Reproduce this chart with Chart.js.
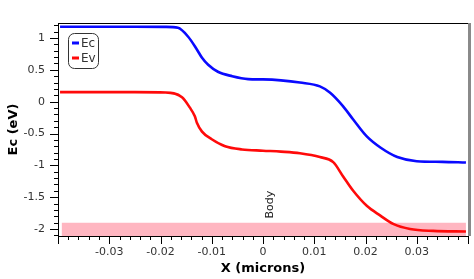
<!DOCTYPE html>
<html>
<head>
<meta charset="utf-8">
<script src="https://cdn.jsdelivr.net/npm/chart.js@4"></script>
<style>
  html, body { margin: 0; padding: 0; background: #fff; }
  #wrap { width: 474px; height: 279px; }
</style>
</head>
<body>
<div id="wrap"><canvas id="c"></canvas></div>
<script>
// Conduction band (Ec)
const ecX = [-0.0396, -0.025, -0.019, -0.0166, -0.0146, -0.0129, -0.0119, -0.0107, -0.0088, -0.006,
  -0.0029, 0.0, 0.0035, 0.0072, 0.0111, 0.0131, 0.0156, 0.0176, 0.0203, 0.0229,
  0.0262, 0.030, 0.035, 0.0396];
const ecY = [1.177, 1.177, 1.175, 1.16, 1.02, 0.82, 0.69, 0.58, 0.47, 0.40,
  0.355, 0.35, 0.335, 0.30, 0.24, 0.14, -0.07, -0.28, -0.55, -0.72,
  -0.87, -0.935, -0.945, -0.955];

// Valence band (Ev)
const evX = [-0.0396, -0.025, -0.019, -0.0158, -0.0143, -0.0133, -0.0129, -0.0119, -0.010, -0.0074,
  -0.0041, 0.0, 0.0035, 0.0072, 0.0111, 0.0137, 0.0156, 0.0176, 0.0203, 0.0229,
  0.0254, 0.0287, 0.0332, 0.0396];
const evY = [0.15, 0.15, 0.145, 0.07, -0.09, -0.23, -0.33, -0.47, -0.59, -0.70,
  -0.75, -0.77, -0.785, -0.81, -0.87, -0.95, -1.17, -1.40, -1.64, -1.79,
  -1.92, -2.0, -2.03, -2.04];

// "Body" region strip along the bottom
const bodyX = [-0.0393, 0.0396];
const bodyTop = -1.9;

const xTicks = [];
for (let i = -20; i <= 20; i++) xTicks.push(i * 0.002);
const yTicks = [];
for (let i = -21; i <= 12; i++) yTicks.push(i * 0.1);

const pts = (xs, ys) => xs.map((x, i) => ({ x, y: ys[i] }));
const isMult = (v, s) => Math.abs(v / s - Math.round(v / s)) < 1e-6;

const FONT = 'DejaVu Sans';

// draws major/minor ticks, frame and the boxed legend
const decor = {
  id: 'decor',
  afterDraw(chart) {
    const { ctx, chartArea: a, scales } = chart;
    ctx.save();
    ctx.strokeStyle = '#000';
    ctx.lineWidth = 1;
    ctx.beginPath();
    scales.y.ticks.forEach(t => {
      const p = Math.round(scales.y.getPixelForValue(t.value)) + 0.5;
      const len = isMult(t.value, 0.5) ? 8 : 4;
      ctx.moveTo(a.left - len, p); ctx.lineTo(a.left, p);
    });
    scales.x.ticks.forEach(t => {
      const p = Math.round(scales.x.getPixelForValue(t.value)) + 0.5;
      const len = isMult(t.value, 0.01) ? 8 : 4;
      ctx.moveTo(p, a.bottom); ctx.lineTo(p, a.bottom + len);
    });
    // top frame line
    ctx.moveTo(a.left, a.top + 0.5); ctx.lineTo(a.right, a.top + 0.5);
    ctx.stroke();
    // right frame in gray
    ctx.strokeStyle = '#8a8a8a';
    ctx.lineWidth = 3;
    ctx.beginPath();
    ctx.moveTo(a.right + 1.5, a.top); ctx.lineTo(a.right + 1.5, a.bottom);
    ctx.stroke();

    // Body label
    ctx.fillStyle = '#222';
    ctx.font = '11px ' + FONT;
    ctx.translate(scales.x.getPixelForValue(0) + 7, scales.y.getPixelForValue(bodyTop) - 18);
    ctx.rotate(-Math.PI / 2);
    ctx.textAlign = 'center';
    ctx.textBaseline = 'middle';
    ctx.fillText('Body', 0, 0);
    ctx.restore();

    // legend box
    ctx.save();
    const lx = a.left + 10, ly = a.top + 10, lw = 30, lh = 35;
    ctx.strokeStyle = '#333';
    ctx.lineWidth = 1;
    ctx.beginPath();
    ctx.roundRect(lx + 0.5, ly + 0.5, lw, lh, 6);
    ctx.stroke();
    ctx.font = '12px ' + FONT;
    ctx.textBaseline = 'middle';
    chart.data.datasets.slice(0, 2).forEach((ds, i) => {
      const y = ly + 10 + i * 15;
      ctx.strokeStyle = ds.borderColor;
      ctx.lineWidth = 3;
      ctx.beginPath();
      ctx.moveTo(lx + 4, y); ctx.lineTo(lx + 11, y);
      ctx.stroke();
      ctx.fillStyle = '#333';
      ctx.fillText(ds.label, lx + 13, y + 1);
    });
    ctx.restore();
  }
};

new Chart(document.getElementById('c'), {
  type: 'line',
  data: {
    datasets: [
      { label: 'Ec', data: pts(ecX, ecY), borderColor: '#0a0aff', borderWidth: 2.6,
        pointRadius: 0, cubicInterpolationMode: 'monotone', fill: false, order: 0 },
      { label: 'Ev', data: pts(evX, evY), borderColor: '#ff0a0a', borderWidth: 2.6,
        pointRadius: 0, cubicInterpolationMode: 'monotone', fill: false, order: 0 },
      { label: 'Body', data: pts(bodyX, [bodyTop, bodyTop]), borderWidth: 0,
        borderColor: 'rgba(0,0,0,0)', backgroundColor: 'rgb(255,182,193)',
        pointRadius: 0, fill: 'start', order: 1 },
    ],
  },
  options: {
    animation: false,
    responsive: true,
    maintainAspectRatio: false,
    layout: { padding: { top: 23, right: 6, left: 0, bottom: 0 } },
    plugins: { legend: { display: false }, tooltip: { enabled: false } },
    scales: {
      x: {
        type: 'linear',
        min: -0.04,
        max: 0.04,
        afterBuildTicks: (s) => { s.ticks = xTicks.map(v => ({ value: v })); },
        afterFit: (s) => { s.height = 43; },
        border: { display: true, color: '#000', width: 1 },
        grid: { drawOnChartArea: false, tickLength: 8, tickColor: 'rgba(0,0,0,0)' },
        ticks: {
          autoSkip: false, maxRotation: 0, padding: 2, color: '#333',
          font: { family: FONT, size: 11 },
          callback: (v) => (isMult(v, 0.01) && Math.abs(v) < 0.035) ? String(Math.round(v * 100) / 100) : '',
        },
        title: { display: true, text: 'X (microns)', color: '#000', padding: { top: 0, bottom: 3 },
          font: { family: FONT, size: 13, weight: 'bold' } },
      },
      y: {
        min: -2.11,
        max: 1.236,
        afterBuildTicks: (s) => { s.ticks = yTicks.map(v => ({ value: v })); },
        afterFit: (s) => { s.width = 58; },
        border: { display: true, color: '#000', width: 1 },
        grid: { drawOnChartArea: false, tickLength: 8, tickColor: 'rgba(0,0,0,0)' },
        ticks: {
          autoSkip: false, padding: 5, color: '#333',
          font: { family: FONT, size: 11 },
          callback: (v) => isMult(v, 0.5) ? String(Math.round(v * 10) / 10) : '',
        },
        title: { display: true, text: 'Ec (eV)', color: '#000', padding: { top: 6, bottom: 0 },
          font: { family: FONT, size: 13, weight: 'bold' } },
      },
    },
  },
  plugins: [decor],
});
</script>
</body>
</html>
